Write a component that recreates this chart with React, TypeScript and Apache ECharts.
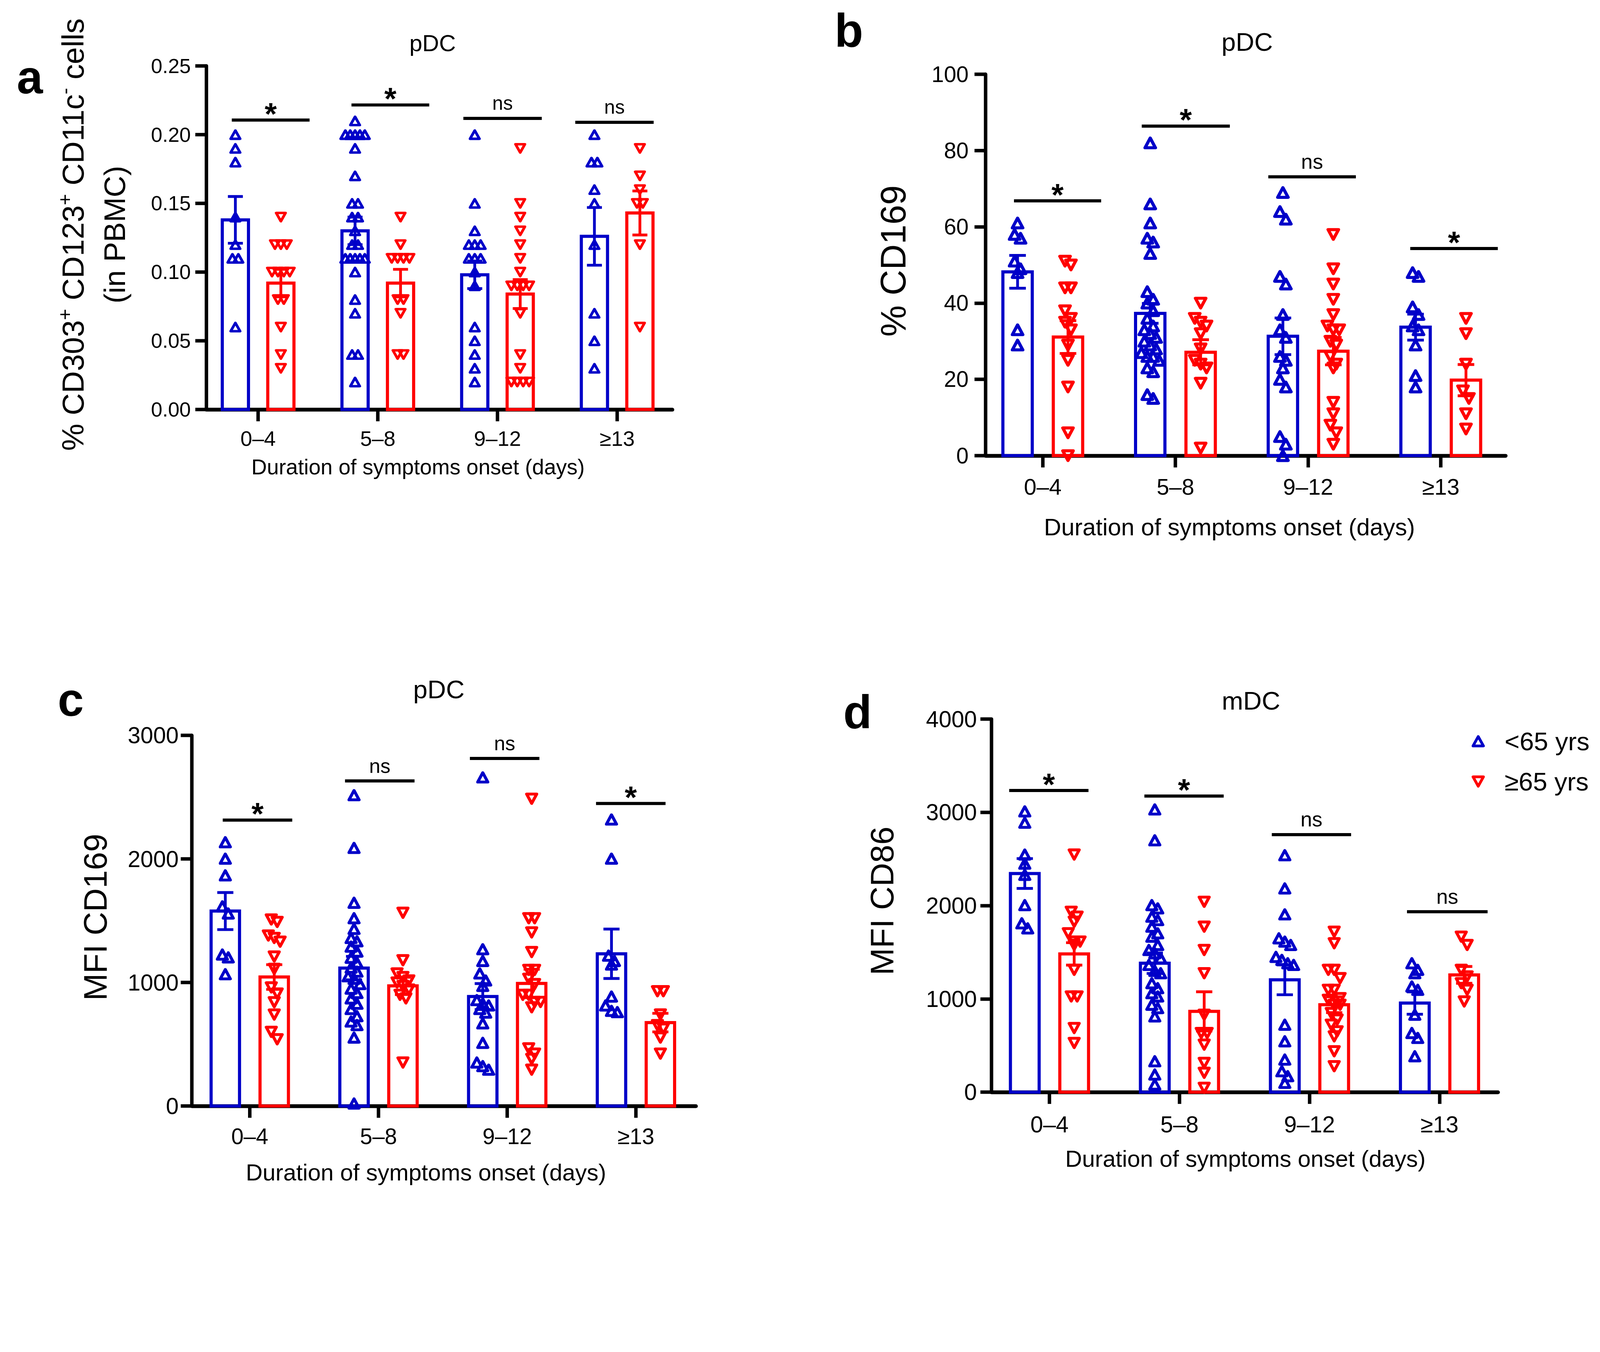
import React, { useEffect, useRef, useState } from 'react';
import * as echarts from 'echarts';

// ---------------- data ----------------
const categories = ['0–4', '5–8', '9–12', '≥13'];
const seriesNames = ['<65 yrs', '≥65 yrs'];

// panel a : % CD303+ CD123+ CD11c- cells (pDC)
const aYoung = [
  [0.2, 0.19, 0.18, 0.14, 0.12, 0.11, 0.11, 0.06],
  [0.21, 0.2, 0.2, 0.2, 0.2, 0.2, 0.19, 0.17, 0.15, 0.15, 0.14, 0.14, 0.13, 0.12, 0.12, 0.11, 0.11, 0.11, 0.11, 0.11, 0.1, 0.08, 0.07, 0.04, 0.04, 0.02],
  [0.2, 0.15, 0.13, 0.12, 0.12, 0.12, 0.11, 0.11, 0.11, 0.1, 0.09, 0.06, 0.05, 0.04, 0.03, 0.02],
  [0.2, 0.18, 0.18, 0.16, 0.15, 0.12, 0.07, 0.05, 0.03],
];
const aOld = [
  [0.14, 0.12, 0.12, 0.12, 0.1, 0.1, 0.1, 0.1, 0.08, 0.08, 0.06, 0.04, 0.03],
  [0.14, 0.12, 0.11, 0.11, 0.11, 0.11, 0.08, 0.08, 0.07, 0.04, 0.04],
  [0.19, 0.15, 0.14, 0.13, 0.12, 0.11, 0.1, 0.09, 0.09, 0.09, 0.09, 0.07, 0.04, 0.03, 0.02, 0.02, 0.02, 0.02],
  [0.19, 0.17, 0.16, 0.15, 0.15, 0.12, 0.06],
];
const aYoungMean = [0.138, 0.13, 0.098, 0.126];
const aYoungSem = [0.017, 0.01, 0.01, 0.021];
const aOldMean = [0.092, 0.092, 0.084, 0.143];
const aOldSem = [0.01, 0.01, 0.0105, 0.016];
const aSigText = ['*', '*', 'ns', 'ns'];
const aSigLevel = [0.2106, 0.2216, 0.2118, 0.209];
const aSigSpan = [[-0.22, 0.43], [-0.22, 0.43], [-0.285, 0.37], [-0.35, 0.305]];

// panel b : % CD169 (pDC)
const bYoung = [
  [61, 58, 57, 51, 49, 48, 33, 29],
  [82, 66, 61, 57, 56, 53, 43, 41, 40, 38, 36, 34, 33, 32, 31, 30, 29, 28, 27, 26, 26, 25, 23, 22, 16, 15],
  [69, 64, 62, 47, 45, 37, 33, 31, 26, 25, 23, 20, 18, 5, 3, 0],
  [48, 47, 39, 37, 34, 33, 29, 21, 18],
];
const bOld = [
  [51, 50, 44, 44, 38, 36, 35, 33, 29, 25, 18, 6, 0],
  [40, 36, 35, 34, 32, 28, 25, 24, 23, 19, 2],
  [58, 49, 45, 41, 37, 34, 33, 33, 30, 29, 26, 24, 23, 14, 11, 8, 6, 3],
  [36, 32, 24, 17, 15, 11, 7],
];
const bYoungMean = [48.2, 37.3, 31.3, 33.7];
const bYoungSem = [4.3, 2.6, 4.8, 3.4];
const bOldMean = [31.1, 27.1, 27.4, 19.8];
const bOldSem = [4.3, 3.3, 3.6, 4.1];
const bSigText = ['*', '*', 'ns', '*'];
const bSigLevel = [66.8, 86.4, 73.1, 54.3];
const bSigSpan = [[-0.217, 0.44], [-0.254, 0.41], [-0.3, 0.36], [-0.23, 0.43]];

// panel c : MFI CD169 (pDC)
const cYoung = [
  [2135, 2002, 1867, 1616, 1558, 1226, 1203, 1067],
  [2516, 2089, 1645, 1520, 1434, 1360, 1333, 1290, 1250, 1200, 1160, 1120, 1088, 1050, 1030, 987, 950, 915, 871, 828, 785, 727, 684, 655, 554, 20],
  [2660, 1269, 1174, 1073, 1016, 972, 857, 830, 814, 785, 756, 669, 511, 352, 323, 294],
  [2319, 2002, 1217, 1174, 1145, 886, 814, 770, 760],
];
const cOld = [
  [1510, 1490, 1380, 1360, 1330, 1210, 1110, 960, 910, 840, 740, 600, 540],
  [1564, 1180, 1073, 1044, 1016, 1000, 972, 943, 900, 871, 352],
  [2487, 1520, 1520, 1405, 1246, 1102, 1102, 1030, 987, 900, 900, 842, 842, 799, 467, 424, 381, 294],
  [929, 929, 741, 655, 626, 554, 424],
];
const cYoungMean = [1578, 1116, 886, 1232];
const cYoungSem = [150, 95, 105, 200];
const cOldMean = [1044, 972, 992, 675];
const cOldSem = [100, 70, 115, 75];
const cSigText = ['*', 'ns', 'ns', '*'];
const cSigLevel = [2314, 2631, 2813, 2449];
const cSigSpan = [[-0.21, 0.33], [-0.26, 0.28], [-0.29, 0.25], [-0.31, 0.23]];

// panel d : MFI CD86 (mDC)
const dYoung = [
  [3010, 2889, 2547, 2450, 2330, 2005, 1810, 1756],
  [3031, 2700, 2005, 1970, 1881, 1845, 1774, 1703, 1667, 1578, 1524, 1489, 1436, 1364, 1300, 1275, 1168, 1115, 1061, 1026, 937, 901, 812, 331, 189, 82],
  [2540, 2184, 1906, 1649, 1614, 1578, 1450, 1418, 1382, 1364, 723, 545, 349, 224, 171, 100],
  [1382, 1311, 1275, 1133, 1097, 830, 634, 581, 385],
];
const dOld = [
  [2547, 1934, 1881, 1827, 1703, 1614, 1614, 1580, 1311, 1026, 1026, 687, 527],
  [2041, 1774, 1524, 1275, 830, 634, 634, 509, 313, 207, 46],
  [1720, 1596, 1311, 1311, 1222, 1097, 1097, 1008, 990, 937, 937, 848, 777, 723, 652, 598, 438, 278],
  [1667, 1578, 1311, 1240, 1168, 1097, 972],
];
const dYoungMean = [2344, 1382, 1204, 955];
const dYoungSem = [160, 110, 160, 120];
const dOldMean = [1482, 866, 937, 1257];
const dOldSem = [120, 210, 85, 90];
const dSigText = ['*', '*', 'ns', 'ns'];
const dSigLevel = [3234, 3174, 2761, 1934];
const dSigSpan = [[-0.31, 0.3], [-0.27, 0.34], [-0.29, 0.32], [-0.25, 0.37]];

// ---------------- styles / layout ----------------
const PAGE_W = 4612;
const PAGE_H = 3460;
const FONT = '"Liberation Sans", Arial, sans-serif';
const BLUE = '#0000c8';
const RED = '#ff0000';
const UP = 'path://M5,0L10,9L0,9Z';
const DOWN = 'path://M0,0L10,0L5,9Z';
const OFFSET = 0.19;
const BAR_W = 0.245;
const BAR_LW = 9;
const CAP_W = 0.125;
const ERR_LW = 8;
const AXIS_LW = 10;

const panels = [
  {
    grid: { left: 595, top: 190, width: 1343, height: 990 }, xMin: -0.432, xMax: 3.461,
    yMax: 0.25, yInterval: 0.05, decimals: 2, tickFont: 59, catFont: 61, yMargin: 45, catMargin: 53,
    sym: [27, 24], symLW: 7.5,
    young: aYoung, old: aOld, yMean: aYoungMean, ySem: aYoungSem, oMean: aOldMean, oSem: aOldSem,
    sigText: aSigText, sigLevel: aSigLevel, sigSpan: aSigSpan, sigFont: 56,
  },
  {
    grid: { left: 2841, top: 214, width: 1499, height: 1099 }, xMin: -0.431, xMax: 3.489,
    yMax: 100, yInterval: 20, decimals: 0, tickFont: 64, catFont: 65, yMargin: 49, catMargin: 57,
    sym: [30, 28], symLW: 9,
    young: bYoung, old: bOld, yMean: bYoungMean, ySem: bYoungSem, oMean: bOldMean, oSem: bOldSem,
    sigText: bSigText, sigLevel: bSigLevel, sigSpan: bSigSpan, sigFont: 60,
  },
  {
    grid: { left: 553, top: 2119, width: 1453, height: 1068 }, xMin: -0.45, xMax: 3.466,
    yMax: 3000, yInterval: 1000, decimals: 0, tickFont: 66, catFont: 64, yMargin: 38, catMargin: 56,
    sym: [29, 27], symLW: 8.5,
    young: cYoung, old: cOld, yMean: cYoungMean, ySem: cYoungSem, oMean: cOldMean, oSem: cOldSem,
    sigText: cSigText, sigLevel: cSigLevel, sigSpan: cSigSpan, sigFont: 58,
  },
  {
    grid: { left: 2858, top: 2072, width: 1460, height: 1075 }, xMin: -0.446, xMax: 3.45,
    yMax: 4000, yInterval: 1000, decimals: 0, tickFont: 66, catFont: 66, yMargin: 42, catMargin: 60,
    sym: [29, 27], symLW: 8.5,
    young: dYoung, old: dOld, yMean: dYoungMean, ySem: dYoungSem, oMean: dOldMean, oSem: dOldSem,
    sigText: dSigText, sigLevel: dSigLevel, sigSpan: dSigSpan, sigFont: 60,
  },
];

const ROW_TOL = 24;
const STEP = 17;
const MAX_ROW = 56;

function swarm(vals: number[], baseX: number, pxPerVal: number, pxPerX: number) {
  const sorted = vals.slice().sort((p, q) => q - p);
  const rows: number[][] = [];
  let cur: number[] = [];
  let start = 0;
  sorted.forEach((v) => {
    const px = v * pxPerVal;
    if (cur.length && start - px < ROW_TOL) cur.push(v);
    else {
      if (cur.length) rows.push(cur);
      cur = [v];
      start = px;
    }
  });
  if (cur.length) rows.push(cur);
  const pts: number[][] = [];
  rows.forEach((row) => {
    const n = row.length;
    const step = n > 1 ? Math.min(STEP, MAX_ROW / (n - 1)) : 0;
    row.forEach((v, i) => pts.push([baseX + ((i - (n - 1) / 2) * step) / pxPerX, v]));
  });
  return pts;
}

function barItem(color: string) {
  return (params: any, api: any) => {
    const x = api.value(0);
    const m = api.value(1);
    const p = api.coord([x, m]);
    const p0 = api.coord([x, 0]);
    const w = api.size([BAR_W, 0])[0];
    return {
      type: 'rect',
      shape: { x: p[0] - w / 2 + BAR_LW / 2, y: p[1], width: w - BAR_LW, height: p0[1] - p[1] },
      style: { fill: 'none', stroke: color, lineWidth: BAR_LW },
    };
  };
}

function errItem(color: string) {
  return (params: any, api: any) => {
    const x = api.value(0);
    const m = api.value(1);
    const s = api.value(2);
    const hi = api.coord([x, m + s]);
    const lo = api.coord([x, m - s]);
    const cw = api.size([CAP_W, 0])[0] / 2;
    const st = { stroke: color, lineWidth: ERR_LW };
    return {
      type: 'group',
      children: [
        { type: 'line', shape: { x1: hi[0], y1: hi[1], x2: lo[0], y2: lo[1] }, style: st },
        { type: 'line', shape: { x1: hi[0] - cw, y1: hi[1], x2: hi[0] + cw, y2: hi[1] }, style: st },
        { type: 'line', shape: { x1: lo[0] - cw, y1: lo[1], x2: lo[0] + cw, y2: lo[1] }, style: st },
      ],
    };
  };
}

function sigItem(texts: string[], font: number) {
  return (params: any, api: any) => {
    const x1 = api.value(0);
    const x2 = api.value(1);
    const y = api.value(2);
    const a = api.coord([x1, y]);
    const b = api.coord([x2, y]);
    const t = texts[params.dataIndex];
    const star = t === '*';
    return {
      type: 'group',
      children: [
        { type: 'line', shape: { x1: a[0], y1: a[1], x2: b[0], y2: b[1] }, style: { stroke: '#000', lineWidth: 9 } },
        {
          type: 'text',
          x: (a[0] + b[0]) / 2,
          y: a[1] - (star ? 18 : 44),
          style: {
            text: t, fill: '#000', fontSize: star ? 90 : font, fontFamily: FONT,
            fontWeight: star ? 'bold' : 'normal',
            align: 'center', verticalAlign: 'middle', textAlign: 'center', textVerticalAlign: 'middle',
          },
        },
      ],
    };
  };
}

function buildOption() {
  const grid: any[] = [];
  const xAxis: any[] = [];
  const yAxis: any[] = [];
  const series: any[] = [];
  panels.forEach((p, i) => {
    grid.push({ ...p.grid, containLabel: false, outerBoundsMode: 'none' });
    xAxis.push({
      type: 'value', gridIndex: i, min: p.xMin, max: p.xMax,
      axisLine: { show: true, onZero: false, lineStyle: { color: '#000', width: AXIS_LW + 1 } },
      axisTick: { show: true, customValues: [0, 1, 2, 3], length: 34, lineStyle: { color: '#000', width: AXIS_LW } },
      axisLabel: {
        customValues: [0, 1, 2, 3], formatter: (v: number) => categories[Math.round(v)] || '',
        fontSize: p.catFont, fontFamily: FONT, color: '#000', margin: p.catMargin,
      },
      splitLine: { show: false },
    });
    yAxis.push({
      type: 'value', gridIndex: i, min: 0, max: p.yMax, interval: p.yInterval,
      axisLine: { show: true, onZero: false, lineStyle: { color: '#000', width: AXIS_LW } },
      axisTick: { show: true, length: 32, lineStyle: { color: '#000', width: AXIS_LW } },
      axisLabel: {
        formatter: (v: number) => v.toFixed(p.decimals),
        fontSize: p.tickFont, fontFamily: FONT, color: '#000', margin: p.yMargin,
      },
      splitLine: { show: false },
    });
    const pxPerVal = p.grid.height / p.yMax;
    const pxPerX = p.grid.width / (p.xMax - p.xMin);
    const groups = [
      { vals: p.young, mean: p.yMean, sem: p.ySem, off: -OFFSET, color: BLUE, sym: UP, name: seriesNames[0] },
      { vals: p.old, mean: p.oMean, sem: p.oSem, off: OFFSET, color: RED, sym: DOWN, name: seriesNames[1] },
    ];
    groups.forEach((g) => {
      const barData = g.mean.map((m, k) => [k + g.off, m, g.sem[k]]);
      series.push({
        type: 'custom', xAxisIndex: i, yAxisIndex: i, z: 2, silent: true,
        renderItem: barItem(g.color), encode: { x: 0, y: 1 }, data: barData,
      });
      let pts: number[][] = [];
      g.vals.forEach((vals, k) => {
        pts = pts.concat(swarm(vals, k + g.off, pxPerVal, pxPerX));
      });
      series.push({
        type: 'scatter', name: g.name, xAxisIndex: i, yAxisIndex: i, z: 3, silent: true,
        symbol: g.sym, symbolSize: p.sym, symbolKeepAspect: false,
        itemStyle: {
          color: 'rgba(255,255,255,0)', borderColor: g.color, borderWidth: p.symLW,
          borderJoin: 'round', opacity: 1,
        },
        emphasis: { disabled: true }, clip: false, data: pts,
      });
      series.push({
        type: 'custom', xAxisIndex: i, yAxisIndex: i, z: 4, silent: true,
        renderItem: errItem(g.color), encode: { x: 0, y: 1 }, data: barData,
      });
    });
    series.push({
      type: 'custom', xAxisIndex: i, yAxisIndex: i, z: 5, silent: true,
      renderItem: sigItem(p.sigText, p.sigFont), encode: { x: [0, 1], y: 2 },
      data: p.sigLevel.map((lv, k) => [k + p.sigSpan[k][0], k + p.sigSpan[k][1], lv]),
    });
  });

  const txt = (text: string, x: number, y: number, size: number, extra: any = {}) => ({
    type: 'text', x, y, silent: true, ...extra,
    style: {
      text, fill: '#000', fontSize: size, fontFamily: FONT, fontWeight: extra.bold ? 'bold' : 'normal',
      align: 'center', verticalAlign: 'middle', textAlign: 'center', textVerticalAlign: 'middle',
    },
  });
  const ROT = Math.PI / 2;
  const graphic = [
    txt('a', 86, 222, 135, { bold: true }),
    txt('b', 2447, 88, 135, { bold: true }),
    txt('c', 204, 2016, 135, { bold: true }),
    txt('d', 2472, 2052, 135, { bold: true }),
    txt('pDC', 1247, 124, 67),
    txt('pDC', 3595, 121, 74),
    txt('mDC', 3606, 2020, 74),
    txt('pDC', 1265, 1987, 74),
    txt('Duration of symptoms onset (days)', 1205, 1346, 62),
    txt('Duration of symptoms onset (days)', 3544, 1519, 69),
    txt('Duration of symptoms onset (days)', 1228, 3379, 67),
    txt('Duration of symptoms onset (days)', 3590, 3339, 67),
    {
      type: 'text', x: 211, y: 676, rotation: ROT, silent: true,
      style: {
        text: '{n|% CD303}{s|+}{n| CD123}{s|+}{n| CD11c}{s|-}{n| cells}',
        align: 'center', verticalAlign: 'middle', textAlign: 'center', textVerticalAlign: 'middle',
        fontSize: 88, fontFamily: FONT, fill: '#000',
        rich: {
          n: { fontSize: 88, fontFamily: FONT, fill: '#000', color: '#000', lineHeight: 104, verticalAlign: 'middle' },
          s: { fontSize: 56, fontFamily: FONT, fill: '#000', color: '#000', lineHeight: 56, verticalAlign: 'top' },
        },
      },
    },
    txt('(in PBMC)', 330, 676, 86, { rotation: ROT }),
    txt('% CD169', 2574, 752, 102, { rotation: ROT }),
    txt('MFI CD169', 275, 2643, 94, { rotation: ROT }),
    txt('MFI CD86', 2543, 2596, 94, { rotation: ROT }),
  ];

  return {
    animation: false,
    backgroundColor: '#ffffff',
    grid,
    xAxis,
    yAxis,
    series,
    graphic,
    legend: {
      show: true, orient: 'vertical', left: 4237, top: 2094, itemWidth: 30, itemHeight: 29, itemGap: 42,
      selectedMode: false,
      itemStyle: { borderWidth: 8, borderJoin: 'round', color: 'rgba(255,255,255,0)' },
      data: [
        { name: seriesNames[0], icon: UP, itemStyle: { borderColor: BLUE, borderWidth: 8, color: 'rgba(255,255,255,0)' } },
        { name: seriesNames[1], icon: DOWN, itemStyle: { borderColor: RED, borderWidth: 8, color: 'rgba(255,255,255,0)' } },
      ],
      textStyle: { fontSize: 74, fontFamily: FONT, color: '#000', padding: [0, 0, 0, 56], lineHeight: 74 },
    },
  };
}

function fitScale() {
  const w = window.innerWidth || PAGE_W;
  const h = window.innerHeight || PAGE_H;
  return Math.min(w / PAGE_W, h / PAGE_H);
}

export default function App() {
  const ref = useRef<HTMLDivElement>(null);
  const [scale, setScale] = useState<number>(() => fitScale());
  useEffect(() => {
    document.body.style.margin = '0';
    document.body.style.overflow = 'hidden';
    setScale(fitScale());
    if (!ref.current) return;
    const chart = echarts.init(ref.current, null, { renderer: 'svg' });
    chart.setOption(buildOption() as any);
    return () => chart.dispose();
  }, []);
  return (
    <div style={{ width: '100vw', height: '100vh', overflow: 'hidden', background: '#fff' }}>
      <div
        ref={ref}
        style={{
          width: PAGE_W,
          height: PAGE_H,
          background: '#fff',
          transform: `scale(${scale})`,
          transformOrigin: '0 0',
        }}
      />
    </div>
  );
}
